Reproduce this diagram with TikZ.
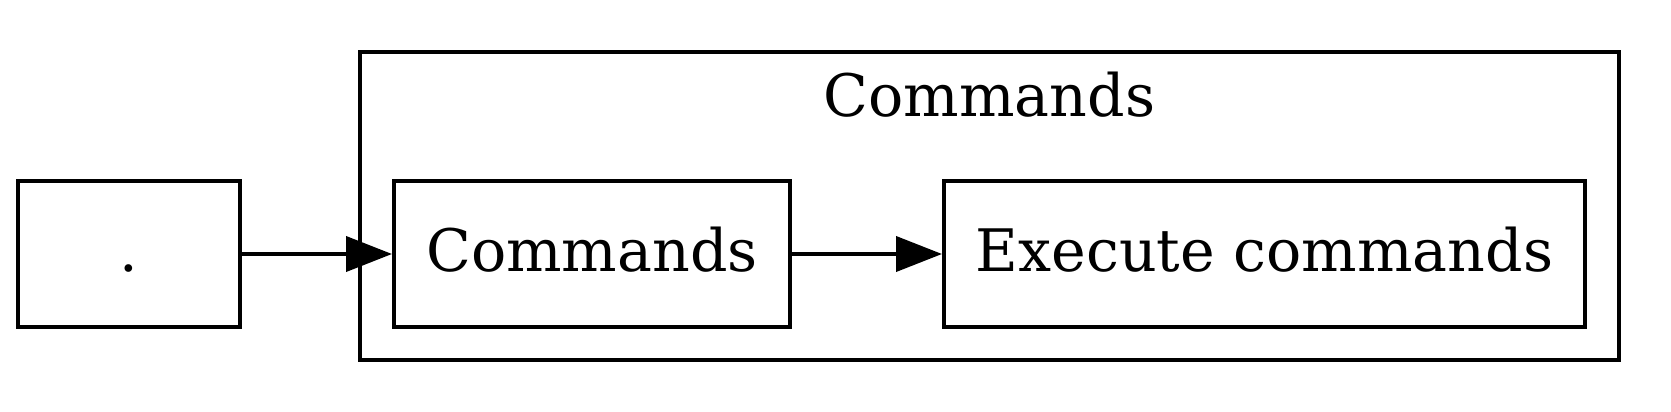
\documentclass[tikz,border=0pt]{standalone}
\usepackage{fontspec}
\setmainfont{DejaVu Serif}
\usetikzlibrary{arrows.meta}
\begin{document}
\begin{tikzpicture}[x=0.5pt,y=-0.5pt,
  box/.style={draw,line width=2pt,minimum height=73pt,inner sep=0pt,
    text height=22pt,text depth=5pt,font=\fontsize{29.3pt}{35pt}\selectfont},
  conn/.style={line width=2pt,-{Triangle[length=23pt,width=17.5pt]}},
  cluster/.style={draw,line width=2pt}]
\useasboundingbox (0,0) rectangle (1671,412);
\draw[cluster] (360,52) rectangle (1619,360);
\node[anchor=base,font=\fontsize{29.3pt}{35pt}\selectfont] (clabel) at (989.5,116) {Commands};
\node[box,minimum width=111pt] (dot) at (128.5,254) {.};
\node[box,minimum width=198pt] (cmd) at (592,254) {Commands};
\node[box,minimum width=320.5pt] (exec) at (1264.5,254) {Execute commands};
\draw[conn] (dot) -- (cmd);
\draw[conn] (cmd) -- (exec);
\end{tikzpicture}
\end{document}
